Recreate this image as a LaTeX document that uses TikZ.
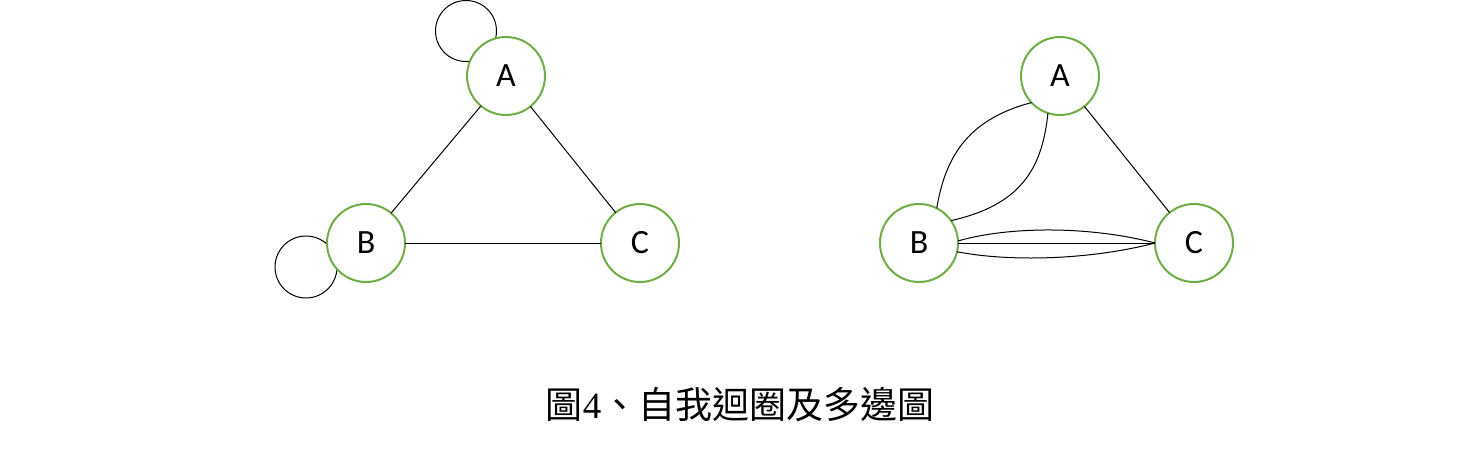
\documentclass[tikz,border=0pt]{standalone}
\usepackage{fontspec}
\setmainfont{Carlito}
\newfontfamily\cjk{Noto Sans CJK TC}
\newfontfamily\serifnum{Liberation Serif}
\usetikzlibrary{backgrounds}
\definecolor{vgreen}{HTML}{70AD47}
\tikzset{
  vtx/.style={circle, draw=vgreen, line width=2pt, fill=white, minimum size=78pt, inner sep=0pt, outer sep=0pt, font=\fontsize{34}{40}\selectfont},
  edg/.style={draw=black, line width=1pt},
}
\begin{document}
\begin{tikzpicture}[x=1pt,y=-1pt]
\useasboundingbox (0,0) rectangle (1480,450);
% left graph
\node[vtx] (A1) at (506,76) {A};
\node[vtx] (B1) at (366,243) {B};
\node[vtx] (C1) at (640,243) {C};
\draw[edg] (A1) -- (B1);
\draw[edg] (A1) -- (C1);
\draw[edg] (B1) -- (C1);
\begin{scope}[on background layer]
  \draw[edg] ([shift={(-40,-45)}]A1.center) circle[radius=30.5pt];
  \draw[edg] ([shift={(-60,24)}]B1.center) circle[radius=31pt];
\end{scope}
% right graph
\node[vtx] (A2) at (1060,76) {A};
\node[vtx] (B2) at (919,243) {B};
\node[vtx] (C2) at (1194,243) {C};
\draw[edg] (A2.223) .. controls (965,120) and (945,160) .. (B2.63);
\draw[edg] (A2.252) .. controls (1042,170) and (1020,205) .. (B2.35);
\draw[edg] (A2) -- (C2);
\draw[edg] (B2.3) .. controls (1010,226) and (1090,226) .. (C2.180);
\draw[edg] (B2.0) -- (C2.180);
\draw[edg] (B2.-13) .. controls (1010,262) and (1090,260) .. (C2.180);
% caption
\node[font=\fontsize{37}{44}\selectfont, inner sep=0pt] (cap) at (740,405) {\cjk 圖{\serifnum 4}、自我迴圈及多邊圖};
\end{tikzpicture}
\end{document}
